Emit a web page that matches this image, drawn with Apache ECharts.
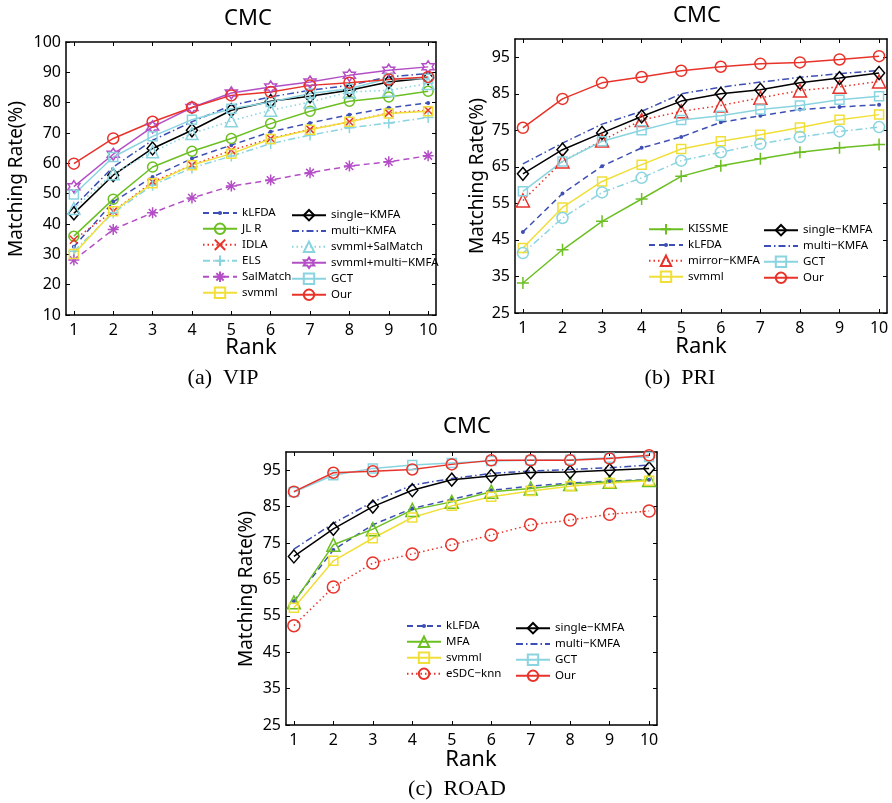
<!DOCTYPE html>
<html><head><meta charset="utf-8">
<script src="https://cdn.jsdelivr.net/npm/echarts@6/dist/echarts.min.js"></script>
<style>html,body{margin:0;padding:0;background:#fff}#c{width:892px;height:803px}</style>
</head><body><div id="c"></div>
<script>
// ---------- data ----------
const ranks = [1,2,3,4,5,6,7,8,9,10];
const yTicksA = [10,20,30,40,50,60,70,80,90,100];
const yTicksBC = [25,35,45,55,65,75,85,95];

// (a) VIP
const vip_kLFDA = [32.5,47.3,55.5,61.6,66.0,70.4,73.3,76.0,78.3,79.9];
const vip_JLR = [36.0,48.2,58.8,64.0,68.2,73.1,77.2,80.5,81.9,83.8];
const vip_IDLA = [34.8,44.2,53.9,59.4,64.3,68.2,71.2,73.7,76.6,77.5];
const vip_ELS = [31.0,43.7,52.8,58.5,62.4,66.5,69.3,71.7,73.3,75.1];
const vip_SalMatch = [28.1,38.2,43.7,48.6,52.5,54.5,56.9,59.1,60.5,62.5];
const vip_svmml = [30.1,44.2,53.4,59.4,63.2,68.0,71.1,73.7,76.4,77.2];
const vip_single = [43.5,56.1,64.9,70.9,77.5,80.5,82.1,84.1,86.8,88.1];
const vip_multi = [45.7,58.8,67.6,73.7,79.1,81.9,84.1,85.7,88.5,89.6];
const vip_svmmlSal = [45.1,56.6,63.8,69.8,74.0,77.5,80.2,83.5,84.1,86.3];
const vip_svmmlMulti = [52.3,63.0,72.0,78.4,83.2,85.2,86.8,89.0,90.7,91.8];
const vip_GCT = [49.7,62.1,68.9,74.4,78.0,80.2,83.0,84.6,88.0,87.9];
const vip_Our = [59.9,68.2,73.7,78.4,82.4,83.5,85.7,86.6,87.6,88.5];

// (b) PRI
const pri_KISSME = [33.2,42.3,50.1,56.2,62.4,65.3,67.2,69.0,70.2,71.1];
const pri_kLFDA = [47.2,57.7,65.2,70.2,73.2,77.2,79.0,80.7,81.4,82.0];
const pri_mirror = [55.8,66.5,72.2,77.8,80.2,81.8,83.9,85.9,86.9,88.4];
const pri_svmml = [42.8,53.9,61.0,65.6,69.9,72.0,73.8,75.8,77.9,79.3];
const pri_single = [63.1,69.7,74.3,78.8,83.0,85.0,86.1,88.0,89.3,90.7];
const pri_multi = [65.8,71.5,76.7,80.2,85.0,86.8,88.2,89.5,90.5,91.4];
const pri_GCT = [58.3,66.5,72.0,75.0,77.8,79.0,80.7,81.8,83.4,84.3];
const pri_Our = [75.7,83.6,88.0,89.6,91.3,92.4,93.2,93.6,94.4,95.3];
const pri_unlisted = [41.4,51.0,58.0,62.0,66.7,69.0,71.3,73.2,74.7,75.9];

// (c) ROAD
const road_kLFDA = [59.0,73.1,80.0,84.5,87.0,89.5,90.6,91.5,92.0,92.4];
const road_MFA = [58.7,74.5,78.8,84.1,86.3,89.1,90.0,91.2,91.8,92.3];
const road_svmml = [57.2,70.1,76.3,82.0,85.2,87.7,89.3,90.6,91.5,92.1];
const road_eSDC = [52.3,62.9,69.5,72.0,74.5,77.2,80.0,81.3,82.9,83.8];
const road_single = [71.3,78.9,85.0,89.5,92.4,93.4,94.4,94.5,95.0,95.5];
const road_multi = [73.3,80.4,86.3,90.9,92.7,94.1,94.8,95.2,95.7,96.4];
const road_GCT = [89.0,93.6,95.5,96.4,97.0,97.5,97.7,97.9,98.4,98.6];
const road_Our = [89.1,94.3,94.7,95.2,96.6,97.7,97.7,97.7,98.2,99.1];

// ---------- styles ----------
const C = {blue:'#3d4fb5', green:'#6cbf22', red:'#e8332a', cyan:'#8ad4e0', purple:'#b44ec6', yellow:'#f0df38', black:'#000000'};
const DASH = [6,4], DOT = [1.5,3], DASHDOT = [7,3,1.5,3];
const SYM = {
  dot:'path://M0,0L0.01,0M10,10L10.01,10M5,3A2,2 0 1,1 5,7A2,2 0 1,1 5,3Z',
  x:'path://M0,0L10,10M10,0L0,10',
  plus:'path://M5,0L5,10M0,5L10,5',
  aster:'path://M5,0L5,10M0,5L10,5M1.5,1.5L8.5,8.5M8.5,1.5L1.5,8.5',
  hex:'path://M10,0L12.89,5L18.66,5L15.77,10L18.66,15L12.89,15L10,20L7.11,15L1.34,15L4.23,10L1.34,5L7.11,5Z'
};
const ST = {
  'kLFDA': {c:C.blue, d:DASH, s:SYM.dot, z:10, filled:true},
  'JL R': {c:C.green, d:'solid', s:'circle', z:10},
  'IDLA': {c:C.red, d:DOT, s:SYM.x, z:8},
  'ELS': {c:C.cyan, d:DASHDOT, s:SYM.plus, z:11},
  'SalMatch': {c:C.purple, d:DASH, s:SYM.aster, z:11},
  'svmml': {c:C.yellow, d:'solid', s:'rect', z:9},
  'single\u2212KMFA': {c:C.black, d:'solid', s:'diamond', z:[11,13]},
  'multi\u2212KMFA': {c:C.blue, d:DASHDOT, s:'none', z:0},
  'svmml+SalMatch': {c:C.cyan, d:DOT, s:'triangle', z:12},
  'svmml+multi\u2212KMFA': {c:C.purple, d:'solid', s:SYM.hex, z:12},
  'GCT': {c:C.cyan, d:'solid', s:'rect', z:9},
  'Our': {c:C.red, d:'solid', s:'circle', z:11},
  'KISSME': {c:C.green, d:'solid', s:SYM.plus, z:12},
  'mirror\u2212KMFA': {c:C.red, d:DOT, s:'triangle', z:13},
  'MFA': {c:C.green, d:'solid', s:'triangle', z:13},
  'eSDC\u2212knn': {c:C.red, d:DOT, s:'circle', z:12},
  'unlisted': {c:C.cyan, d:DASHDOT, s:'circle', z:11}
};

function mk(name, vals, g) {
  const st = ST[name];
  return {
    type:'line', name:name, xAxisIndex:2*g, yAxisIndex:2*g,
    data: ranks.map((r,i)=>[r, vals[i]]),
    symbol: st.s, symbolSize: st.z, showSymbol: st.s !== 'none',
    lineStyle:{color:st.c, width:1.5, type:st.d},
    itemStyle: st.filled ? {color:st.c, borderWidth:0} : {color:'rgba(255,255,255,0)', borderColor:st.c, borderWidth:1.5},
    emphasis:{disabled:true}, animation:false, clip:true
  };
}

const series = [
  mk('kLFDA', vip_kLFDA, 0), mk('JL R', vip_JLR, 0), mk('IDLA', vip_IDLA, 0), mk('ELS', vip_ELS, 0),
  mk('SalMatch', vip_SalMatch, 0), mk('svmml', vip_svmml, 0), mk('single\u2212KMFA', vip_single, 0),
  mk('multi\u2212KMFA', vip_multi, 0), mk('svmml+SalMatch', vip_svmmlSal, 0),
  mk('svmml+multi\u2212KMFA', vip_svmmlMulti, 0), mk('GCT', vip_GCT, 0), mk('Our', vip_Our, 0),

  mk('KISSME', pri_KISSME, 1), mk('kLFDA', pri_kLFDA, 1), mk('mirror\u2212KMFA', pri_mirror, 1),
  mk('svmml', pri_svmml, 1), mk('unlisted', pri_unlisted, 1), mk('single\u2212KMFA', pri_single, 1),
  mk('multi\u2212KMFA', pri_multi, 1), mk('GCT', pri_GCT, 1), mk('Our', pri_Our, 1),

  mk('kLFDA', road_kLFDA, 2), mk('MFA', road_MFA, 2), mk('svmml', road_svmml, 2), mk('eSDC\u2212knn', road_eSDC, 2),
  mk('single\u2212KMFA', road_single, 2), mk('multi\u2212KMFA', road_multi, 2), mk('GCT', road_GCT, 2), mk('Our', road_Our, 2)
];

const FONT = '"Noto Sans", "Liberation Sans", sans-serif';
const grids = [
  {left:66, top:42, width:370, height:273},
  {left:515, top:39, width:372, height:274},
  {left:286, top:452, width:371, height:273}
];
const yRanges = [[10,100,yTicksA],[25,100,yTicksBC],[25,100,yTicksBC]];
const axLine = {show:true, onZero:false, lineStyle:{color:'#000', width:1.5}};
const xAxes = [], yAxes = [];
grids.forEach((g,i)=>{
  xAxes.push({type:'value', gridIndex:i, position:'bottom', min:0.8, max:10.2, axisLine:axLine,
    axisTick:{show:true, inside:true, length:4, customValues:ranks, lineStyle:{color:'#000'}},
    axisLabel:{customValues:ranks, fontSize:16, color:'#000', margin:7, fontFamily:FONT}, splitLine:{show:false}});
  xAxes.push({type:'value', gridIndex:i, position:'top', min:0.8, max:10.2, axisLine:axLine,
    axisTick:{show:true, inside:true, length:4, customValues:ranks, lineStyle:{color:'#000'}},
    axisLabel:{show:false}, splitLine:{show:false}});
  const yr = yRanges[i];
  yAxes.push({type:'value', gridIndex:i, position:'left', min:yr[0], max:yr[1], axisLine:axLine,
    axisTick:{show:true, inside:true, length:4, customValues:yr[2], lineStyle:{color:'#000'}},
    axisLabel:{customValues:yr[2], fontSize:16, color:'#000', margin:5, fontFamily:FONT}, splitLine:{show:false}});
  yAxes.push({type:'value', gridIndex:i, position:'right', min:yr[0], max:yr[1], axisLine:axLine,
    axisTick:{show:true, inside:true, length:4, customValues:yr[2], lineStyle:{color:'#000'}},
    axisLabel:{show:false}, splitLine:{show:false}});
});

function lg(names, left, top) {
  return {data:names.map(n => n === 'multi\u2212KMFA'
      ? {name:n, itemStyle:{color:'rgba(0,0,0,0)', borderColor:'rgba(0,0,0,0)', borderWidth:0}}
      : n),
    orient:'vertical', left:left, top:top, itemWidth:34, itemHeight:13, itemGap:3.6,
    selectedMode:false, textStyle:{fontSize:11.5, color:'#000', fontFamily:FONT}, padding:0};
}
const legends = [
  lg(['kLFDA','JL R','IDLA','ELS','SalMatch','svmml'], 202, 207),
  lg(['single\u2212KMFA','multi\u2212KMFA','svmml+SalMatch','svmml+multi\u2212KMFA','GCT','Our'], 291, 209),
  lg(['KISSME','kLFDA','mirror\u2212KMFA','svmml'], 648, 223),
  lg(['single\u2212KMFA','multi\u2212KMFA','GCT','Our'], 763, 224),
  lg(['kLFDA','MFA','svmml','eSDC\u2212knn'], 406, 620),
  lg(['single\u2212KMFA','multi\u2212KMFA','GCT','Our'], 515, 622)
];

function txt(t, x, y, size, opts) {
  opts = opts || {};
  return {type:'text', x:x, y:y, rotation:opts.rot||0, silent:true,
    style:{text:t, fill:'#000', align:'center', verticalAlign:'middle',
      font: size + 'px ' + (opts.serif ? '"Liberation Serif", "DejaVu Serif", serif' : FONT)}};
}
const graphics = [
  txt('CMC', 248, 19, 22), txt('CMC', 697, 16, 22), txt('CMC', 467, 427, 22),
  txt('Rank', 251, 348, 22), txt('Rank', 701, 347, 22), txt('Rank', 471, 760, 22),
  txt('Matching Rate(%)', 17, 179, 19, {rot:Math.PI/2}),
  txt('Matching Rate(%)', 478, 176, 19, {rot:Math.PI/2}),
  txt('Matching Rate(%)', 247, 589, 19, {rot:Math.PI/2}),
  txt('(a)  VIP', 223, 378, 22, {serif:true}),
  txt('(b)  PRI', 680, 378, 22, {serif:true}),
  txt('(c)  ROAD', 457, 789, 22, {serif:true})
];

const chart = echarts.init(document.getElementById('c'), null, {renderer:'canvas'});
chart.setOption({
  animation:false, backgroundColor:'#fff',
  grid:grids, xAxis:xAxes, yAxis:yAxes, legend:legends, series:series, graphic:graphics
});
</script></body></html>
